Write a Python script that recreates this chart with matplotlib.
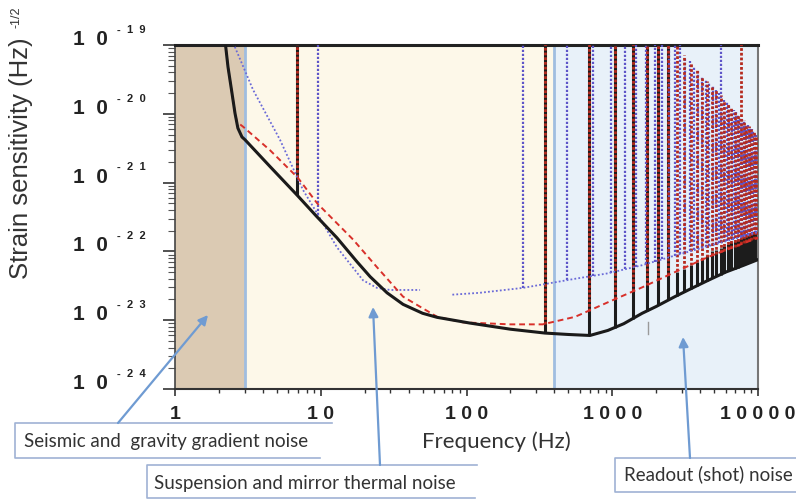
import numpy as np
import matplotlib
matplotlib.use('Agg')
import matplotlib.pyplot as plt
from matplotlib.patches import FancyArrowPatch
from matplotlib.lines import Line2D
import matplotlib.transforms as mtransforms
from matplotlib.ticker import LogLocator, NullFormatter, FixedLocator

# ---------------- data ----------------
x_ticks = [1, 10, 100, 1000, 10000]
x_tick_labels = ['1', '1 0', '1 0 0', '1 0 0 0', '1 0 0 0 0']
y_exponents = [-19, -20, -21, -22, -23, -24]

regions = [(1, 3), (3, 400), (400, 10000)]
region_labels = ['Seismic and  gravity gradient noise',
                 'Suspension and mirror thermal noise',
                 'Readout (shot) noise']

# total sensitivity (black solid)
total_f = [2.2, 2.31, 2.46, 2.58, 2.70, 2.88, 3.02, 4.5, 6.87, 9.4, 12.9, 17.7, 21.8,
           28.5, 36.7, 50, 62.9, 105, 200, 346, 500, 703, 933, 1200, 1603, 2000, 2690,
           3500, 4552, 6000, 8000, 10000]
total_h = [1.2e-19, 4.8e-20, 2.0e-20, 1.02e-20, 6.2e-21, 4.6e-21, 4.2e-21, 1.7e-21,
           6.6e-22, 3.2e-22, 1.58e-22, 7.1e-23, 4.3e-23, 2.5e-23, 1.7e-23, 1.26e-23,
           1.1e-23, 9.1e-24, 7.4e-24, 6.5e-24, 6.2e-24, 6.0e-24, 7.1e-24, 8.9e-24,
           1.26e-23, 1.58e-23, 2.2e-23, 2.9e-23, 3.8e-23, 5.0e-23, 6.3e-23, 7.6e-23]

# red dashed design
red_f = [2.2, 2.31, 2.46, 2.58, 2.66, 2.93, 4.49, 6.98, 9.45, 16.7, 24.3, 36.7, 62.9,
         94.7, 200, 333, 556, 933, 1603, 2690, 4552, 10000]
red_h = [1.2e-19, 4.8e-20, 2.0e-20, 1.02e-20, 7.6e-21, 6.5e-21, 2.95e-21, 1.17e-21,
         5.0e-22, 1.48e-22, 5.9e-23, 2.2e-23, 1.12e-23, 9.3e-24, 8.7e-24, 8.7e-24,
         1.12e-23, 1.82e-23, 3.0e-23, 5.0e-23, 8.3e-23, 1.58e-22]

# blue dotted design (nan = gap)
blue_f = [2.45, 3.43, 5.25, 7.56, 9.43, 12.9, 19.5, 24.3, 30, 48, np.nan, 80, 123, 244,
          556, 933, 1603, 2690, 10000]
blue_h = [1.2e-19, 2.24e-20, 4.2e-21, 7.8e-22, 3.6e-22, 1.15e-22, 3.8e-23, 2.95e-23,
          2.75e-23, 2.75e-23, np.nan, 2.35e-23, 2.5e-23, 2.95e-23, 4.0e-23, 4.8e-23,
          6.3e-23, 8.7e-23, 1.9e-22]

# resonance (violin mode) spikes of the red/black curves
violin_f = [6.9, 346, 692, 1038, 1384, 1730, 2076, 2422, 2768, 3114, 3460, 3806, 4152,
            4498, 4844, 5190, 5536, 5882, 6228, 6574, 6920, 7266, 7612, 7958, 8304,
            8650, 8996, 9342, 9688]
violin_top_red = [2e-19, 2e-19, 2e-19, 2e-19, 2e-19, 2e-19, 2e-19, 2e-19, 2e-19, 7.1e-20,
                  5.6e-20, 4.5e-20, 3.6e-20, 3.0e-20, 2.5e-20, 2.2e-20, 1.9e-20, 1.6e-20,
                  1.4e-20, 1.25e-20, 1.1e-20, 1.0e-20, 2e-19, 8.0e-21, 7.2e-21, 6.6e-21,
                  6.0e-21, 5.5e-21, 5.0e-21]
violin_top_black = [2e-19, 2e-19, 2e-19, 2e-19, 2e-19, 2e-19, 2e-19, 2e-19, 5.0e-23,
                    5.6e-23, 6.3e-23, 7.1e-23, 7.9e-23, 8.9e-23, 1.0e-22, 1.05e-22,
                    1.12e-22, 1.2e-22, 1.26e-22, 1.35e-22, 1.41e-22, 1.48e-22, 1.55e-22,
                    1.62e-22, 1.7e-22, 1.74e-22, 1.82e-22, 1.9e-22, 1.95e-22]

# spikes of the blue design
blue_spike_f = [9.6, 244, 488, 732, 976, 1220, 1464, 1708, 1952, 2196, 2440, 2684, 2928,
                3172, 3416, 3660, 3904, 4148, 4392, 4636, 4880, 5124, 5368, 5612, 5856,
                6100, 6344, 6588, 6832, 7076, 7320, 7564, 7808, 8052, 8296, 8540, 8784,
                9028, 9272, 9516, 9760]
blue_spike_top = [2e-19, 2e-19, 2e-19, 2e-19, 2e-19, 2e-19, 2e-19, 2e-19, 2e-19, 2e-19,
                  2e-19, 2e-19, 2e-19, 6.8e-20, 5.8e-20, 4.9e-20, 4.2e-20, 3.6e-20,
                  3.2e-20, 2.8e-20, 2.5e-20, 2.2e-20, 2.0e-20, 2e-19, 1.6e-20, 1.5e-20,
                  1.35e-20, 1.23e-20, 1.15e-20, 1.05e-20, 9.8e-21, 9.1e-21, 8.3e-21,
                  7.8e-21, 7.2e-21, 6.8e-21, 6.3e-21, 6.0e-21, 5.6e-21, 5.2e-21, 5.0e-21]

# ---------------- figure ----------------
W, H = 796, 501
fig = plt.figure(figsize=(W / 100, H / 100), dpi=100)
ax = fig.add_axes([175 / W, 1 - 389 / H, (758 - 175) / W, (389 - 45) / H])
ax.set_xscale('log')
ax.set_yscale('log')
ax.set_xlim(1, 10000)
ax.set_ylim(1e-24, 1e-19)

region_colors = ['#dbcab3', '#fdf8e9', '#e8f1f9']
for (a, b), c in zip(regions, region_colors):
    ax.axvspan(a, b, color=c, zorder=0, lw=0)
for xb in [regions[1][0], regions[2][0]]:
    ax.axvline(xb, color='#9fbde0', lw=2, zorder=1)


def base_at(fs, xf, yh):
    xf = np.array(xf, float)
    yh = np.array(yh, float)
    m = ~np.isnan(xf)
    return 10 ** np.interp(np.log10(fs), np.log10(xf[m]), np.log10(yh[m]))


# spikes
ax.vlines(violin_f, base_at(violin_f, total_f, total_h), violin_top_black,
          colors='#1c1c1c', lw=2.2, zorder=2)
ax.vlines(blue_spike_f, base_at(blue_spike_f, blue_f, blue_h), blue_spike_top,
          colors='#5e55c8', lw=1.6, linestyles=(0, (1, 0.8)), zorder=3)
ax.vlines(violin_f, base_at(violin_f, red_f, red_h), violin_top_red,
          colors='#b52a1e', lw=2.0, linestyles=(0, (1, 0.7)), zorder=4)

# base curves
ax.plot(blue_f, blue_h, color='#6a6ad8', lw=1.3, ls=(0, (1, 1.2)), zorder=5)
ax.plot(red_f, red_h, color='#d8302a', lw=1.4, ls=(0, (3, 2)), zorder=6)
ax.plot(total_f, total_h, color='#1a1a1a', lw=2.2, zorder=7)
ax.plot([1758, 1758], [9.3e-24, 6.3e-24], color='#9a9a9a', lw=1, zorder=7)

# ticks
ax.xaxis.set_major_locator(FixedLocator(x_ticks))
ax.set_xticklabels(x_tick_labels, fontfamily='Liberation Sans', fontweight='bold',
                   fontsize=14, color='#222222')
ax.xaxis.set_minor_locator(LogLocator(base=10, subs=np.arange(2, 10)))
ax.xaxis.set_minor_formatter(NullFormatter())
ax.yaxis.set_major_locator(FixedLocator([10.0 ** e for e in y_exponents]))
ax.yaxis.set_minor_locator(LogLocator(base=10, subs=np.arange(2, 10), numticks=20))
ax.yaxis.set_major_formatter(NullFormatter())
ax.yaxis.set_minor_formatter(NullFormatter())
ax.tick_params(axis='x', which='major', direction='out', length=5, width=1.2,
               color='#333333', pad=7)
ax.tick_params(axis='x', which='minor', direction='out', length=3, width=1,
               color='#333333')
ax.tick_params(axis='y', which='major', direction='out', length=9, width=1.2,
               color='#333333')
ax.tick_params(axis='y', which='minor', direction='out', length=5, width=0.8,
               color='#555555')

for s, lw, c in [('top', 2.2, '#222222'), ('bottom', 1.5, '#333333'),
                 ('left', 1.2, '#444444'), ('right', 1.5, '#777777')]:
    ax.spines[s].set_linewidth(lw)
    ax.spines[s].set_color(c)

# y tick labels, manual
bt = mtransforms.blended_transform_factory(fig.transFigure, ax.transData)
for e in y_exponents:
    ax.annotate('1  0', xy=(108 / W, 10.0 ** e), xycoords=bt, xytext=(0, 4),
                textcoords='offset points', ha='right', va='center',
                fontfamily='Liberation Sans', fontweight='bold', fontsize=15,
                color='#222222', annotation_clip=False)
    ax.annotate('-  ' + '  '.join(str(-e)), xy=(117 / W, 10.0 ** e), xycoords=bt,
                xytext=(0, 11), textcoords='offset points', ha='left', va='center',
                fontfamily='Liberation Sans', fontweight='bold', fontsize=8,
                color='#222222', annotation_clip=False)

# axis labels
fig.text(21 / W, 1 - 158 / H, 'Strain sensitivity (Hz)', rotation=90, ha='center',
         va='center', fontfamily='Liberation Sans', fontsize=18.5, color='#333333')
fig.text(17 / W, 1 - 17 / H, '-1/2', rotation=90, ha='center', va='center',
         fontfamily='Liberation Sans', fontsize=9, color='#333333')
fig.text(496 / W, 1 - 442 / H, 'Frequency (Hz)', ha='center', va='center',
         fontfamily='Lato', fontsize=16, color='#333333')

# annotation boxes
box_color = '#9fb2d4'


def poly(pts):
    xs = [p[0] / W for p in pts]
    ys = [1 - p[1] / H for p in pts]
    fig.add_artist(Line2D(xs, ys, color=box_color, lw=1.2, transform=fig.transFigure))


poly([(332, 423), (15, 423), (15, 458), (320, 458)])
poly([(477, 465), (147, 465), (147, 498), (475, 498)])
poly([(W + 5, 458), (615, 458), (615, 492), (W + 5, 492)])

fig.text(24 / W, 1 - 442 / H, region_labels[0], ha='left', va='center',
         fontfamily='Lato', fontsize=13.5, color='#333333')
fig.text(154 / W, 1 - 484 / H, region_labels[1], ha='left', va='center',
         fontfamily='Lato', fontsize=13.5, color='#333333')
fig.text(624 / W, 1 - 474 / H, region_labels[2], ha='left', va='center',
         fontfamily='Lato', fontsize=13.5, color='#333333')

arrow_color = '#6f9bd2'
for (x0, y0), (x1, y1) in [((118, 423), (208, 315)), ((380, 465), (373, 307)),
                           ((690, 458), (683, 337))]:
    fig.add_artist(FancyArrowPatch((x0 / W, 1 - y0 / H), (x1 / W, 1 - y1 / H),
                                   transform=fig.transFigure, arrowstyle='-|>',
                                   mutation_scale=14, color=arrow_color, lw=1.6,
                                   shrinkA=0, shrinkB=0, zorder=10))

fig.savefig('out.png', dpi=100)
